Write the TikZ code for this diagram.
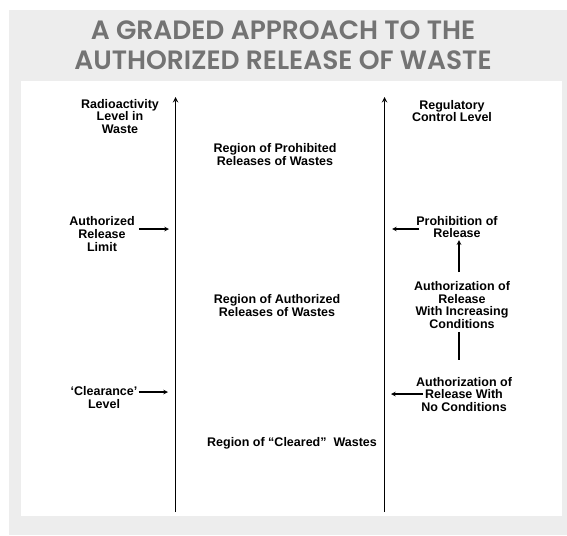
\documentclass[tikz,border=0pt]{standalone}
\usepackage{fontspec}
\setmainfont{Liberation Sans}
\newfontfamily\headfont{Poppins SemiBold}
\usetikzlibrary{positioning}

\definecolor{panelgray}{HTML}{EDEDED}
\definecolor{headgray}{HTML}{737373}

\tikzset{
    lbl/.style={font=\bfseries\fontsize{12.5}{12.8}\selectfont, align=center, inner sep=1pt},
    heading/.style={font=\headfont\fontsize{26.5}{30}\selectfont, text=headgray, align=center},
    axis/.style={->, line width=1.4pt},
    pointer/.style={->, line width=1.1pt}
}

\begin{document}
\begin{tikzpicture}[%
    x=1pt, y=-1pt,
    >=stealth
    ]

    \useasboundingbox (0,0) rectangle (567,535);
    \fill[panelgray] (9,10) rectangle (567,535);
    \fill[white] (21,81) rectangle (562,516);

    \node[heading] (title) at (283,45) {A GRADED APPROACH TO THE\\AUTHORIZED RELEASE OF WASTE};

    % the two scales
    \coordinate (lbot) at (175.5,512);
    \coordinate (ltop) at (175.5,97);
    \coordinate (rbot) at (384.5,512);
    \coordinate (rtop) at (384.5,97);
    \draw[axis] (lbot) -- (ltop);
    \draw[axis] (rbot) -- (rtop);

    % left scale
    \node[lbl] (radio) at (120,116.5) {Radioactivity\\Level in\\Waste};
    \node[lbl] (arl)   at (102,234) {Authorized\\Release\\Limit};
    \node[lbl] (clear) at (104,397.5) {‘Clearance’\\Level};

    \coordinate (arlim) at (169,229);
    \coordinate (clev)  at (168,392);
    \draw[pointer] ([xshift=3pt]arl.east |- arlim) -- (arlim);
    \draw[pointer] (clear.east |- clev) -- (clev);

    % regions
    \node[lbl] (prohreg) at (275,154.5) {Region of Prohibited\\Releases of Wastes};
    \node[lbl] (authreg) at (277,305.5) {Region of Authorized\\Releases of Wastes};
    \node[lbl] (clrreg)  at (292,443) {Region of “Cleared”\ \ Wastes};

    % right scale
    \node[lbl] (reg)    at (452,111) {Regulatory\\Control Level};
    \node[lbl] (prohib) at (457,227) {Prohibition of\\Release};
    \node[lbl] (auth)   at (462,305) {Authorization of\\Release\\With Increasing\\Conditions};
    \node[lbl] (noc)    at (464,394.5) {Authorization of\\Release With\\No Conditions};

    \coordinate (pro)   at (392,229);
    \coordinate (nocpt) at (391,394);
    \draw[pointer] ([xshift=4pt]prohib.west |- pro) -- (pro);
    \draw[pointer] ([xshift=8pt]noc.west |- nocpt) -- (nocpt);

    \draw[pointer, shorten <=8pt, shorten >=1pt] ([xshift=-3pt]auth.north) -- ([xshift=-3pt]auth.north |- prohib.south);
    \draw[line width=1.1pt, shorten <=2pt, shorten >=16pt] ([xshift=-3pt]auth.south) -- ([xshift=-3pt]auth.south |- noc.north);

\end{tikzpicture}
\end{document}
